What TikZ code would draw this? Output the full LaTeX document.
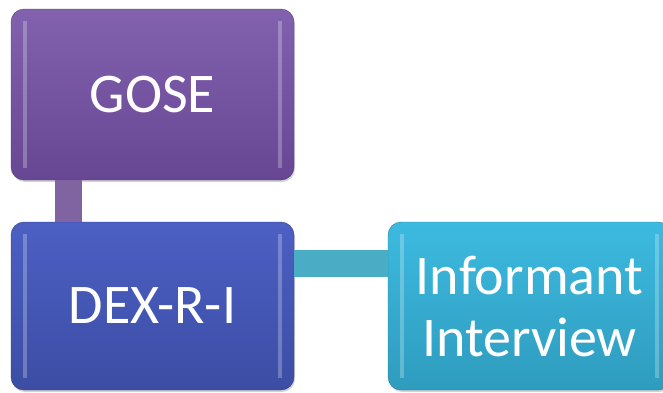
\documentclass[tikz,border=0pt]{standalone}
\usepackage{fontspec}
\setmainfont{Carlito}
\usetikzlibrary{shadows}
\definecolor{goseTop}{HTML}{8262AE}
\definecolor{goseBot}{HTML}{674793}
\definecolor{dexTop}{HTML}{4C60C4}
\definecolor{dexBot}{HTML}{3C4DA4}
\definecolor{infTop}{HTML}{3DBAE0}
\definecolor{infBot}{HTML}{2E9CBE}
\definecolor{linkP}{HTML}{8064A2}
\definecolor{linkC}{HTML}{4BACC6}

\begin{document}
\begin{tikzpicture}[x=1pt,y=-1pt,
  every node/.style={shape=rectangle,rounded corners=13pt,minimum width=283pt,
    text=white,align=center,font=\fontsize{56}{62}\selectfont,
    drop shadow={opacity=.35,shadow xshift=1pt,shadow yshift=-2pt},
    path picture={
      \fill[white,opacity=.25,draw=none,sharp corners] ([xshift=12pt,yshift=-12pt]path picture bounding box.north west)
        rectangle ([xshift=16pt,yshift=12pt]path picture bounding box.south west);
      \fill[white,opacity=.25,draw=none,sharp corners] ([xshift=-12pt,yshift=-12pt]path picture bounding box.north east)
        rectangle ([xshift=-16pt,yshift=12pt]path picture bounding box.south east);}},
  gosebox/.style={draw=goseBot!80!black,top color=goseTop,bottom color=goseBot},
  dexbox/.style={draw=dexBot!80!black,top color=dexTop,bottom color=dexBot},
  infbox/.style={draw=infBot!80!black,top color=infTop,bottom color=infBot}]
  \useasboundingbox (0,0) rectangle (663,392);
  \path (152.5,94.5) node[gosebox,minimum height=171pt] (gose) {GOSE}
  (152.5,306) node[dexbox,minimum height=168pt] (dex) {DEX-R-I}
  (529.5,306) node[infbox,minimum height=168pt] (inf) {Informant\\Interview};
  \draw[linkP,line width=27pt] ([xshift=-84pt]gose.south) -- ([xshift=-84pt]dex.north);
  \draw[linkC,line width=27pt] ([yshift=42.5pt]dex.east) -- ([yshift=42.5pt]inf.west);
  \end{tikzpicture}
\end{document}
